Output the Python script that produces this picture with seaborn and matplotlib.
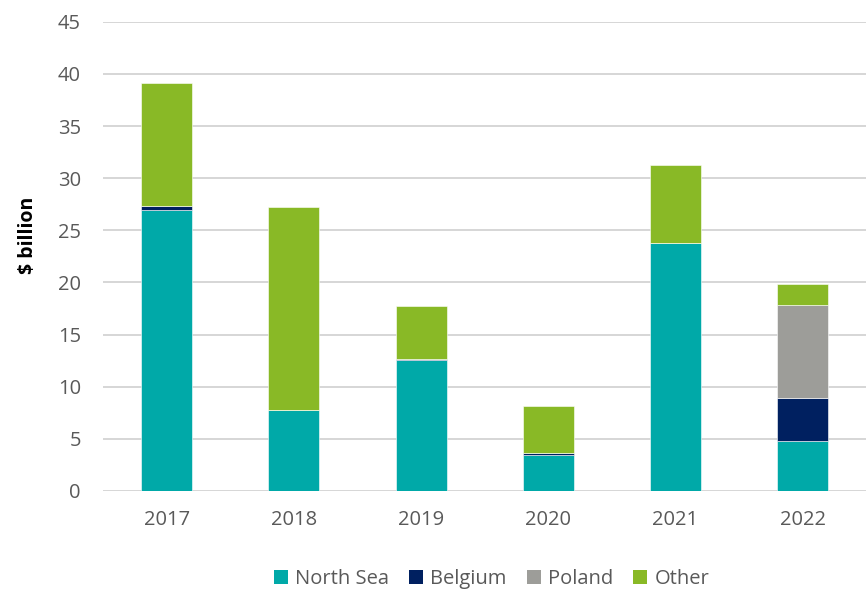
import matplotlib
matplotlib.use("Agg")
import matplotlib.pyplot as plt
import seaborn as sns
import pandas as pd
import numpy as np
from matplotlib.patches import Patch

years = ["2017", "2018", "2019", "2020", "2021", "2022"]
north_sea = [26.9, 7.8, 12.6, 3.4, 23.8, 4.8]
belgium = [0.4, 0.0, 0.05, 0.2, 0.0, 4.1]
poland = [0.0, 0.0, 0.0, 0.0, 0.0, 8.9]
other = [11.8, 19.4, 5.05, 4.5, 7.5, 2.0]

series_names = ["North Sea", "Belgium", "Poland", "Other"]
series_vals = [north_sea, belgium, poland, other]
colors = ["#00A9A8", "#002060", "#9D9D99", "#89B926"]

sns.set_theme(style="white")
plt.rcParams["font.family"] = ["Open Sans", "DejaVu Sans"]

fig = plt.figure(figsize=(8.67, 5.9), dpi=100)
ax = fig.add_axes([0.119, 0.168, 0.880, 0.795])

bottom = np.zeros(len(years))
for name, vals, col in zip(series_names, series_vals, colors):
    df = pd.DataFrame({"year": years, "value": vals})
    sns.barplot(data=df, x="year", y="value", color=col, bottom=bottom,
                width=0.4, ax=ax, edgecolor="white", linewidth=0.4,
                saturation=1, errorbar=None)
    bottom = bottom + np.array(vals)

ax.set_ylim(0, 45)
ax.set_xlim(-0.5, 5.5)
ax.set_yticks(range(0, 46, 5))
ax.yaxis.grid(True, color="#D0D0D0", linewidth=1.2)
ax.set_axisbelow(True)
for s in ax.spines.values():
    s.set_visible(False)
ax.tick_params(axis="both", colors="#595959", labelsize=14.5, length=0)
ax.tick_params(axis="x", pad=14)
ax.tick_params(axis="y", pad=16)
ax.set_xlabel("")
ax.set_ylabel("$ billion", fontsize=14, fontweight="bold", color="black")
ax.yaxis.set_label_coords(-0.085, 0.545)

handles = [Patch(facecolor=c, edgecolor="none") for c in colors]
fig.legend(handles, series_names, loc="center", bbox_to_anchor=(0.567, 0.019),
           ncol=4, frameon=False, fontsize=14.5, handlelength=0.7, handleheight=0.7,
           handletextpad=0.35, columnspacing=1.0, labelcolor="#595959")

fig.savefig("out.png", dpi=100)
